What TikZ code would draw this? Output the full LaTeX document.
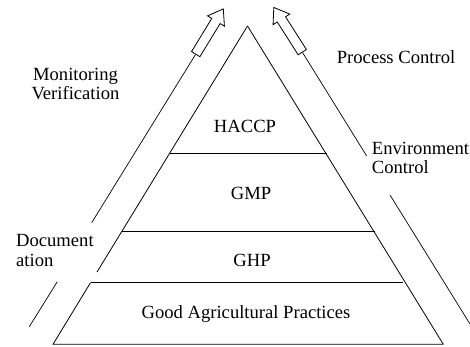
\documentclass[tikz,border=0pt]{standalone}
\usepackage{fontspec}
\setmainfont{Liberation Serif}
\usetikzlibrary{shapes.arrows}
\begin{document}
\begin{tikzpicture}[x=1pt,y=-1pt,
  edge/.style={line width=0.8pt,black},
  guide/.style={line width=0.7pt,black},
  label/.style={inner sep=0pt,font=\fontsize{18.6}{20}\selectfont},
  blockarrow/.style={single arrow,draw,line width=0.8pt,fill=white,
    inner sep=4.5pt,minimum height=53pt,single arrow head extend=5pt,
    single arrow tip angle=70,anchor=tail}]
\useasboundingbox (0,0) rectangle (470,347);

% pyramid corners
\coordinate (apex) at (247.5,26);
\coordinate (l1) at (170,153);   \coordinate (r1) at (326.5,153);
\coordinate (l2) at (121.7,231.7); \coordinate (r2) at (374.5,231.7);
\coordinate (lgap) at (97,272);
\coordinate (l3) at (90.5,282.7); \coordinate (r3) at (403,282.7);
\coordinate (bl) at (53,344.3);  \coordinate (br) at (443.3,344.3);

% pyramid outline and layers
\draw[edge] (apex) -- (lgap);
\draw[edge] (apex) -- (br);
\draw[edge] (l1) -- (r1);
\draw[edge] (l2) -- (r2);
\draw[edge] (l3) -- (r3);
\draw[edge] (l3) -- (bl) -- (br);

% side guide lines with upward block arrows
\coordinate (ltail) at (195.5,54.5);
\coordinate (lmid) at (91.7,222.7);
\coordinate (llow) at (57.3,281.7);
\coordinate (lend) at (29.3,326.7);
\coordinate (rtail) at (302.5,52.5);
\coordinate (rmid) at (366.7,156);
\coordinate (rlow) at (390,195);
\coordinate (rend) at (470,324);

\draw[guide] (ltail) -- (lmid);
\draw[guide] (llow) -- (lend);
\draw[guide] (rtail) -- (rmid);
\draw[guide] (rlow) -- (rend);

\node[blockarrow,rotate=58.6] (larrow) at (ltail) {};
\node[blockarrow,rotate=122.5] (rarrow) at (rtail) {};

% layer labels
\node[label,anchor=base] (haccp) at (245,132.3) {HACCP};
\node[label,anchor=base] (gmp) at (251,200) {GMP};
\node[label,anchor=base] (ghp) at (252,266.7) {GHP};
\node[label,anchor=base] (gap) at (246,318.5) {Good Agricultural Practices};

% side labels
\node[label,anchor=base] (mon1) at (75.5,81) {Monitoring};
\node[label,anchor=base] (mon2) at (75.5,100) {Verification};
\node[label,anchor=base west] (proc) at (336.7,64) {Process Control};
\node[label,anchor=base west] (env1) at (371.7,154.3) {Environment};
\node[label,anchor=base west] (env2) at (371.7,173.3) {Control};
\node[label,anchor=base west] (doc1) at (16,246.7) {Document};
\node[label,anchor=base west] (doc2) at (16,266) {ation};
\end{tikzpicture}
\end{document}
